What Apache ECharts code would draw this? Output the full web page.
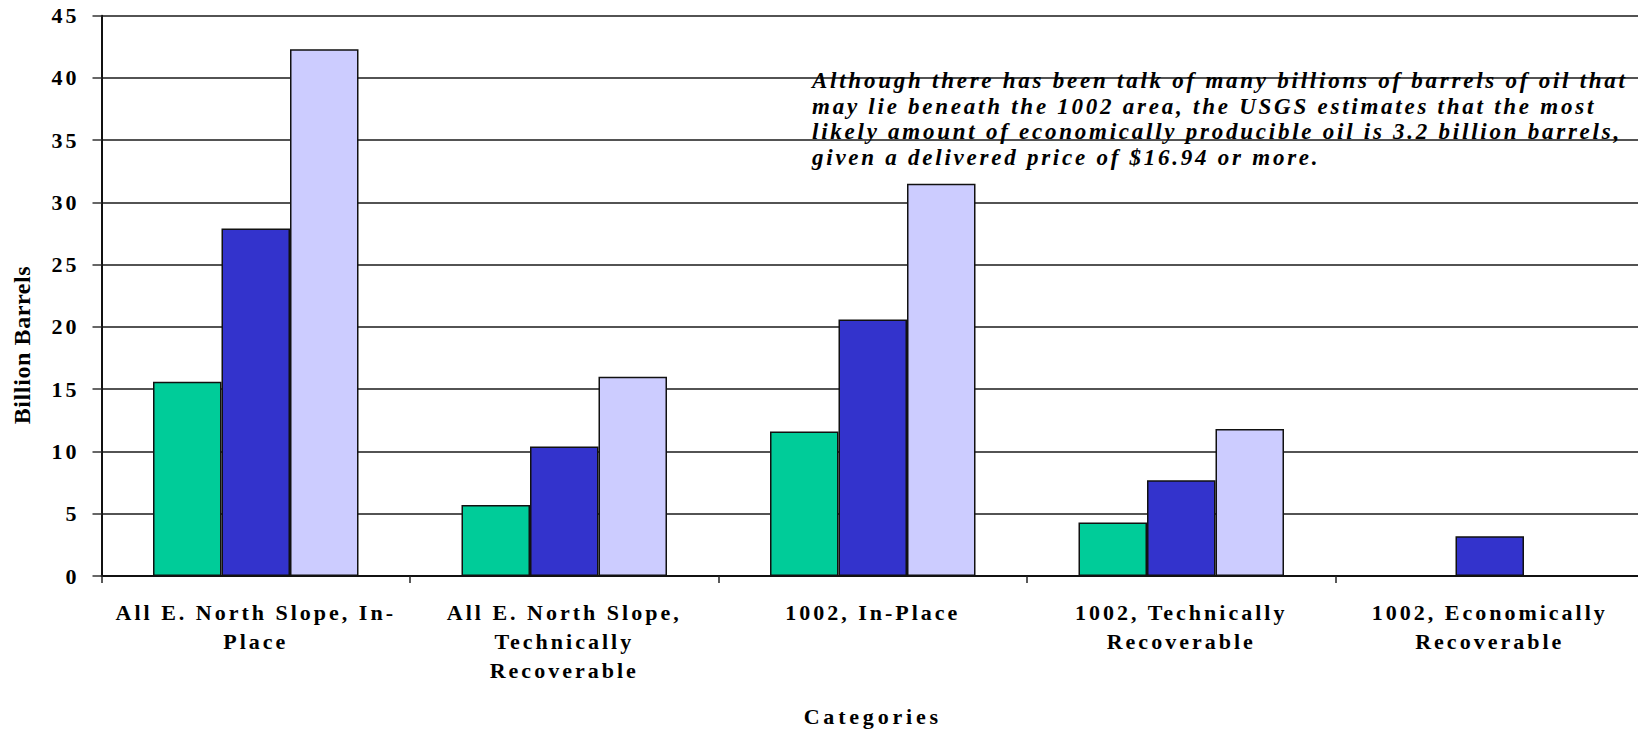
<!DOCTYPE html>
<html>
<head>
<meta charset="utf-8">
<script src="https://cdn.jsdelivr.net/npm/echarts@6/dist/echarts.min.js"></script>
<style>
  html, body { margin: 0; padding: 0; background: #fff; }
  #chart { width: 1638px; height: 731px; }
  /* widely tracked lettering used throughout the chart */
  #chart svg text { letter-spacing: 3px; }
</style>
</head>
<body>
<div id="chart"></div>
<script>
// Oil resource categories (billion barrels)
const categories = [
  'All E. North Slope, In-\nPlace',
  'All E. North Slope,\nTechnically\nRecoverable',
  '1002, In-Place',
  '1002, Technically\nRecoverable',
  '1002, Economically\nRecoverable'
];
// Low (95% probability), mean and high (5% probability) estimates
const lowEstimate  = [15.6, 5.7, 11.6, 4.3, null];
const meanEstimate = [27.9, 10.4, 20.6, 7.7, 3.2];
const highEstimate = [42.3, 16.0, 31.5, 11.8, null];

// Value axis range
const yMin = 0;
const yMax = 45;
const yStep = 5;

const yTitle = 'Billion Barrels';
const xTitle = 'Categories';
const noteLines = [
  'Although there has been talk of many billions of barrels of oil that',
  'may lie beneath the 1002 area, the USGS estimates that the most',
  'likely amount of economically producible oil is 3.2 billion barrels,',
  'given a delivered price of $16.94 or more.'
];

const serif = '"Liberation Serif", "Times New Roman", serif';
const barBorder = { borderColor: '#111', borderWidth: 1.5 };

const chart = echarts.init(document.getElementById('chart'), null, { renderer: 'svg' });

function barSeries(name, data, color) {
  return {
    name: name,
    type: 'bar',
    data: data,
    barWidth: 68.5,
    barGap: '0%',
    itemStyle: Object.assign({ color: color }, barBorder)
  };
}

chart.setOption({
  animation: false,
  backgroundColor: '#fff',
  grid: {
    left: 101.5,
    right: -6,
    top: 15.7,
    bottom: 155,
    outerBoundsMode: 'none'
  },
  xAxis: {
    type: 'category',
    data: categories,
    name: xTitle,
    nameLocation: 'middle',
    nameGap: 129,
    nameTextStyle: {
      fontFamily: serif, fontWeight: 'bold', fontSize: 22, color: '#000',
      verticalAlign: 'top'
    },
    axisLine: { lineStyle: { color: '#111', width: 2 } },
    axisTick: { show: true, length: 7, lineStyle: { color: '#222', width: 1.5 } },
    axisLabel: {
      interval: 0,
      margin: 22,
      fontFamily: serif, fontWeight: 'bold', fontSize: 22, color: '#000',
      lineHeight: 29
    },
    splitLine: { show: false }
  },
  yAxis: {
    type: 'value',
    min: yMin,
    max: yMax,
    interval: yStep,
    axisLine: { show: true, lineStyle: { color: '#111', width: 2 } },
    axisTick: { show: true, length: 9, lineStyle: { color: '#333', width: 1.5 } },
    axisLabel: {
      margin: 22,
      fontFamily: serif, fontWeight: 'bold', fontSize: 22, color: '#000'
    },
    splitLine: { show: true, lineStyle: { color: '#1a1a1a', width: 1.5 } }
  },
  series: [
    barSeries('Low estimate', lowEstimate, '#00CC99'),
    barSeries('Mean estimate', meanEstimate, '#3333CC'),
    barSeries('High estimate', highEstimate, '#CCCCFF')
  ],
  graphic: [{
    type: 'text',
    x: 22,
    y: 345,
    rotation: Math.PI / 2,
    z: 100,
    style: {
      text: yTitle,
      font: 'bold 24px ' + serif,
      fill: '#000',
      align: 'center',
      verticalAlign: 'middle'
    }
  }, {
    type: 'text',
    left: 812,
    top: 68,
    z: 100,
    style: {
      text: noteLines.join('\n'),
      font: 'italic bold 23px ' + serif,
      fill: '#000',
      lineHeight: 25.5
    }
  }]
});

// Per-text tracking adjustments
function applyTracking() {
  document.querySelectorAll('#chart svg text').forEach(function (t) {
    const s = t.textContent;
    if (s === yTitle) t.style.letterSpacing = '0.6px';
    else if (s === xTitle) t.style.letterSpacing = '3.8px';
    else if (noteLines.indexOf(s) >= 0) t.style.letterSpacing = '2.75px';
  });
}
chart.on('finished', applyTracking);
applyTracking();
</script>
</body>
</html>
